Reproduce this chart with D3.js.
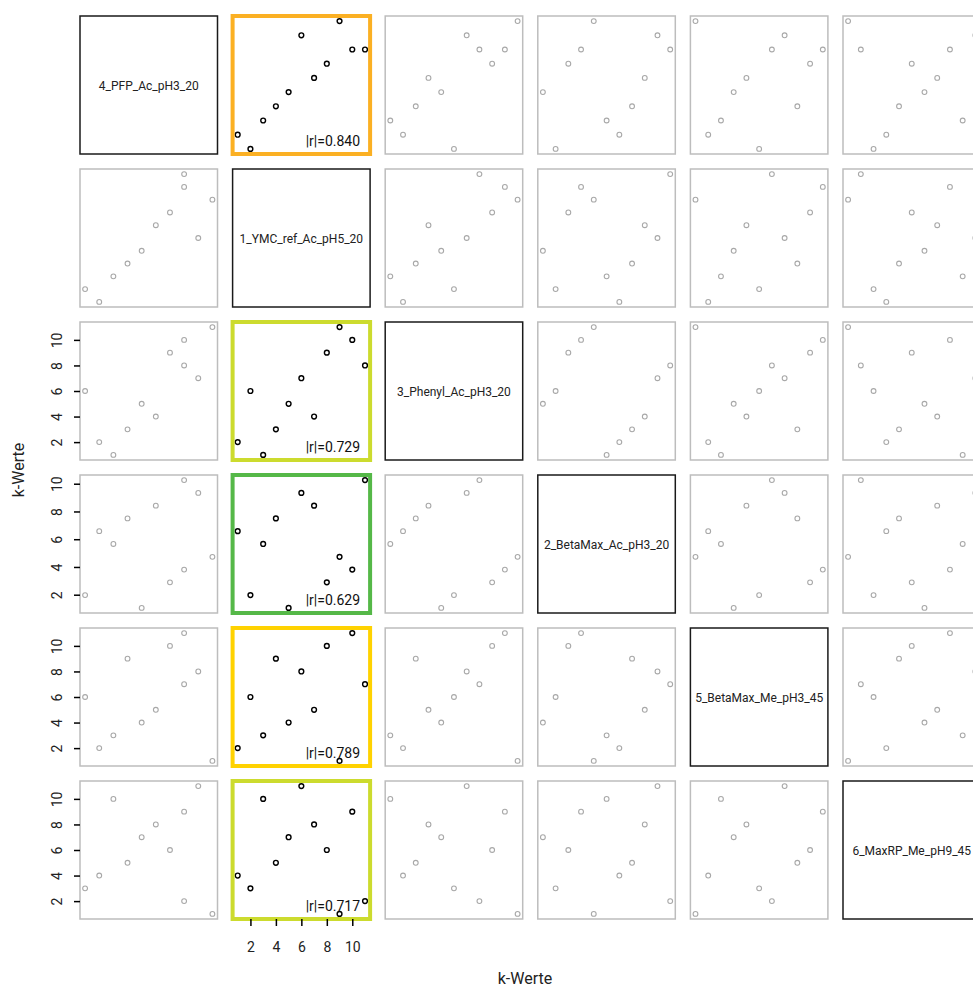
<!DOCTYPE html>
<html>
<head>
<meta charset="utf-8">
<script src="https://cdn.jsdelivr.net/npm/d3@7"></script>
<style>
  html, body { margin: 0; padding: 0; background: #fff; }
  svg { display: block; }
  text { font-family: Roboto, "Noto Sans", sans-serif; }
</style>
</head>
<body>
<svg id="chart" width="973" height="988"></svg>
<script>
// ---- data (values per item, 11 items) ----
const variables = ["4_PFP_Ac_pH3_20", "1_YMC_ref_Ac_pH5_20", "3_Phenyl_Ac_pH3_20",
                   "2_BetaMax_Ac_pH3_20", "5_BetaMax_Me_pH3_45", "6_MaxRP_Me_pH9_45"];
const pfp    = [2, 1, 3, 4, 5, 9, 6, 7, 10, 8, 8];
const ymc    = [1, 2, 3, 4, 5, 6, 7, 8, 9, 10, 11];
const phenyl = [2, 6, 1, 3, 5, 7, 4, 9, 11, 10, 8];
const betaAc = [6.58, 1.97, 5.66, 7.50, 1.05, 9.34, 8.42, 2.89, 4.73, 3.81, 10.26];
const betaMe = [2, 6, 3, 9, 4, 8, 5, 10, 1, 11, 7];
const maxRP  = [4, 3, 10, 5, 7, 11, 8, 6, 1, 9, 2];
const series = [pfp, ymc, phenyl, betaAc, betaMe, maxRP];

// correlations with 1_YMC_ref_Ac_pH5_20 (shown in column 2)
const rLabels = ["|r|=0.840", null, "|r|=0.729", "|r|=0.629", "|r|=0.789", "|r|=0.717"];
const rColors = ["#FBB023", null, "#CCDB2E", "#55B848", "#FFD200", "#CCDB2E"];
const tickValues = [2, 4, 6, 8, 10];
const axisTitle = "k-Werte";

// ---- layout ----
const svg = d3.select("#chart");
const n = variables.length;
const x0 = 80, y0 = 16, pitchX = 152.6, pitchY = 153, pw = 137.5, ph = 138;
const hiCol = 1;

const xScales = series.map(s => {
  const [mn, mx] = d3.extent(s), pad = 0.04 * (mx - mn);
  return d3.scaleLinear().domain([mn - pad, mx + pad]).range([0, pw]);
});
const yScales = series.map(s => {
  const [mn, mx] = d3.extent(s), pad = 0.04 * (mx - mn);
  return d3.scaleLinear().domain([mn - pad, mx + pad]).range([ph, 0]);
});

for (let i = 0; i < n; i++) {
  for (let j = 0; j < n; j++) {
    const g = svg.append("g").attr("transform", `translate(${x0 + j * pitchX},${y0 + i * pitchY})`);
    if (i === j) {
      g.append("rect").attr("width", pw).attr("height", ph)
        .attr("fill", "none").attr("stroke", "#1a1a1a").attr("stroke-width", 1.5);
      g.append("text").attr("x", pw / 2).attr("y", ph / 2 + 4.5)
        .attr("text-anchor", "middle").attr("font-size", 12).attr("fill", "#222")
        .text(variables[i]);
      continue;
    }
    const hi = (j === hiCol && rLabels[i]);
    const pts = ymc.map((_, k) => [series[j][k], series[i][k]]);
    g.selectAll("circle").data(pts).join("circle")
      .attr("cx", d => xScales[j](d[0]))
      .attr("cy", d => yScales[i](d[1]))
      .attr("r", 2.4)
      .attr("fill", "none")
      .attr("stroke", hi ? "#000" : "#a8a8a8")
      .attr("stroke-width", hi ? 1.4 : 1.1);
    if (hi) {
      g.append("text").attr("x", pw - 10).attr("y", ph - 8)
        .attr("text-anchor", "end").attr("font-size", 14).attr("fill", "#111")
        .text(rLabels[i]);
      g.append("rect").attr("width", pw).attr("height", ph)
        .attr("fill", "none").attr("stroke", rColors[i]).attr("stroke-width", 4);
    } else {
      g.append("rect").attr("width", pw).attr("height", ph)
        .attr("fill", "none").attr("stroke", "#bdbdbd").attr("stroke-width", 1.5);
    }
  }
}

// y axes on the left for rows 3-6
for (let i = 2; i < n; i++) {
  const g = svg.append("g").attr("transform", `translate(${x0},${y0 + i * pitchY})`);
  const ax = d3.axisLeft(yScales[i]).tickValues(tickValues).tickSize(6).tickPadding(4);
  g.call(ax);
  g.select(".domain").remove();
  g.selectAll(".tick line").attr("stroke", "#000").attr("stroke-width", 1.5);
  g.selectAll(".tick text")
    .attr("font-size", 14).attr("font-family", "Roboto, sans-serif").attr("fill", "#222")
    .attr("transform", "rotate(-90)")
    .attr("x", 0).attr("y", -18).attr("dy", 0)
    .attr("text-anchor", "middle");
}

// x axis below column 2
{
  const g = svg.append("g").attr("transform", `translate(${x0 + hiCol * pitchX},${y0 + (n - 1) * pitchY + ph})`);
  const ax = d3.axisBottom(xScales[hiCol]).tickValues(tickValues).tickSize(7).tickPadding(15);
  g.call(ax);
  g.select(".domain").remove();
  g.selectAll(".tick line").attr("stroke", "#000").attr("stroke-width", 1.5);
  g.selectAll(".tick text").attr("font-size", 14).attr("font-family", "Roboto, sans-serif")
    .attr("fill", "#222").attr("dy", "0.8em");
}

// axis titles
svg.append("text").attr("x", 525).attr("y", 984).attr("text-anchor", "middle")
  .attr("font-size", 16).attr("fill", "#222").text(axisTitle);
svg.append("text").attr("transform", "translate(24,470) rotate(-90)")
  .attr("text-anchor", "middle").attr("font-size", 16).attr("fill", "#222").text(axisTitle);
</script>
</body>
</html>
